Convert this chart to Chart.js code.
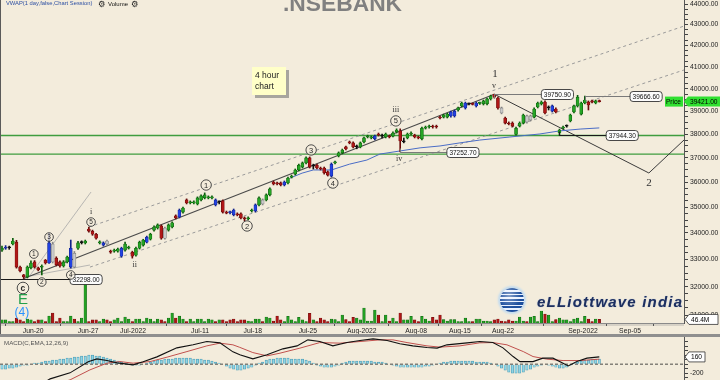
<!DOCTYPE html>
<html>
<head>
<meta charset="utf-8">
<script src="https://cdn.jsdelivr.net/npm/chart.js@4.4.1/dist/chart.umd.min.js"></script>
<style>
html,body{margin:0;padding:0;background:#F3ECDC;overflow:hidden;}
#wrap{position:relative;width:720px;height:380px;overflow:hidden;background:#F3ECDC;font-family:"Liberation Sans",Arial,sans-serif;}
canvas{position:absolute;left:0;z-index:1;}
#c1{top:0;}
#c2{top:337px;}
.t{position:absolute;white-space:nowrap;line-height:1;z-index:3;}
#sep{position:absolute;left:0;top:334px;width:720px;height:3px;background:#8f8f8f;z-index:2;}
#lb{position:absolute;left:0;top:0;width:1px;height:334px;background:#5a5a5a;z-index:2;}
#xband{position:absolute;left:0;top:323px;width:684px;height:3px;background:#d6d1c6;z-index:0;}
#title{left:283px;top:-7.6px;font-size:22.8px;font-weight:bold;color:#808080;}
#vw{left:6px;top:0.6px;font-size:5.8px;color:#2c4fa3;}
#vol{left:108px;top:0.6px;font-size:6px;color:#111;}
.gear{font-family:"DejaVu Sans";font-size:8.5px;color:#222;top:-0.5px;}
#note{position:absolute;left:252px;top:67px;width:31px;height:25px;padding:3px 0 0 3px;background:#FFFFC8;box-shadow:3px 3px 0 #A8A69E;font-size:8.5px;line-height:11px;color:#222;z-index:3;}
#globe{position:absolute;left:500px;top:288px;width:24px;height:24px;border-radius:50%;z-index:3;
 background:radial-gradient(circle at 38% 32%,rgba(255,255,255,0.45),rgba(255,255,255,0) 55%),repeating-linear-gradient(180deg,#1d4f9e 0px,#1d4f9e 2.3px,#eaf2ff 2.3px,#eaf2ff 3.6px);
 box-shadow:0 0 2px 2px #c4dcef;}
#logo{left:537px;top:294px;font-size:15px;font-weight:bold;font-style:italic;letter-spacing:1.2px;color:#1e2f5e;text-shadow:0 0 1px #8aa0c8;}
#macdlbl{left:4px;top:340.1px;font-size:6.2px;color:#555;}
</style>
</head>
<body>
<div id="wrap">
  <div id="xband"></div>
  <canvas id="c1" width="720" height="334"></canvas>
  <div id="sep"></div>
  <div id="lb"></div>
  <canvas id="c2" width="720" height="43"></canvas>
  <div class="t" id="title">.NSEBANK</div>
  <div class="t" id="vw">VWAP(1 day,false,Chart Session)</div>
  <div class="t gear" style="left:98px">⚙</div>
  <div class="t" id="vol">Volume</div>
  <div class="t gear" style="left:131px">⚙</div>
  <div id="note">4 hour<br>chart</div>
  <div id="globe"></div>
  <div class="t" id="logo">eLLiottwave india</div>
  <div class="t" id="macdlbl">MACD(C,EMA,12,26,9)</div>
</div>
<script>
// ---------------- DATA ----------------
const opens = [33350,33420,33440,33580,33650,32720,32430,32360,32690,32910,
32690,32720,32980,32870,33580,33050,32910,32760,32910,32720,
33230,33420,33630,33620,34150,34070,33950,33620,33540,33690,
33310,33310,33310,33120,33350,33420,33270,33160,33420,33540,
33650,33760,34110,34190,34270,34190,34110,34230,34660,34620,
34810,35290,35170,35170,35130,35290,35370,35370,35370,35290,
35210,35250,34810,34810,34890,34740,34740,34580,34540,34850,
34850,35090,35290,35290,35490,36010,35970,35970,35890,35970,
36210,36330,36500,36620,36790,37000,36660,36700,36580,36580,
36420,36250,36790,37080,37210,37460,37670,37630,37460,37460,
37670,37880,37840,37800,38010,37920,37880,37920,37920,38100,
38140,37670,37840,38010,37960,37880,37800,38260,38310,38350,
38350,38740,38740,38740,38790,38790,39050,39230,39140,39320,
39340,39230,39340,39320,39320,39540,39750,39580,39140,38700,
38480,38480,37990,38350,38480,38790,38610,38740,39180,39320,
39400,39140,39000,39090,38050,38260,38350,38570,38960,39230,
38870,39360,39400,39450,39360,39450];
const highs = [33500,33520,33500,33800,33720,32760,32450,32760,32950,32960,
32720,32800,33000,33990,33650,33100,32950,32960,33130,33730,
33300,33680,33700,33730,34230,34110,33990,33700,33660,33730,
33350,33390,33430,33460,33650,33500,33310,33460,33690,33760,
33880,33990,34270,34350,34310,34230,34350,34430,34700,34930,
35010,35330,35250,35250,35410,35490,35570,35450,35450,35330,
35250,35290,34850,34850,34930,34780,34780,34620,34620,34930,
35130,35410,35330,35530,35770,36050,36010,36010,36050,36210,
36290,36540,36740,36830,37040,37040,36740,36740,36620,36620,
36460,36790,36870,37250,37370,37500,37710,37670,37540,37670,
37880,37960,37920,37960,38050,38000,38050,37960,38100,38230,
38230,37840,38050,38100,38000,37920,38310,38350,38390,38390,
38390,38780,38870,38910,39000,39050,39180,39400,39400,39360,
39360,39400,39400,39490,39580,39710,39750.9,39620,39180,38740,
38530,38530,38310,38530,38870,38830,38830,39140,39400,39450,
39450,39230,39270,39140,38220,38350,38400,38870,39270,39700,
39400,39666.6,39450,39490,39490,39490];
const lows = [33300,33380,33380,33550,32680,32540,32298,32320,32650,32680,
32580,32430,32830,32850,32870,32760,32720,32720,32870,32680,
32690,33380,33580,33580,34030,33910,33760,33580,33500,33540,
33230,33270,33270,33080,33310,33390,33050,33120,33390,33500,
33620,33730,34070,34150,33760,33760,34070,34190,34540,34580,
34770,35130,35130,35130,35090,35250,35330,35330,35330,35050,
35130,34770,34740,34740,34660,34660,34540,34460,34500,34810,
34810,35050,35090,35250,35450,35890,35890,35850,35850,35930,
36170,36290,36460,36580,36750,36580,36540,36540,36500,36330,
36250,36210,36750,37040,37170,37330,37590,37420,37380,37420,
37630,37840,37800,37760,37920,37840,37840,37840,37880,38050,
37252.7,37630,37800,37970,37840,37800,37760,38220,38260,38260,
38260,38660,38700,38700,38740,38740,39000,39180,39090,39270,
39270,39180,39300,39270,39270,39490,39580,39090,38880,38440,
38400,38310,37960,38310,38440,38480,38570,38700,39140,39270,
38880,39050,38960,38920,37944.3,38220,38300,38530,38920,39180,
38830,39320,39050,39360,39320,39400];
const closes = [33420,33450,33440,33690,32720,32580,32360,32720,32870,32720,
32610,32760,32870,33620,32910,32800,32760,32910,33090,33420,
32720,33620,33630,33690,34070,33950,33800,33650,33620,33580,
33270,33350,33390,33420,33580,33460,33120,33420,33650,33730,
33840,33950,34230,34310,33800,33800,34310,34390,34580,34890,
34970,35170,35210,35210,35370,35450,35490,35410,35410,35090,
35210,34810,34770,34790,34700,34700,34580,34540,34580,34890,
35090,35370,35130,35490,35730,35930,35930,35890,36010,36170,
36250,36500,36700,36790,37000,36620,36660,36580,36540,36380,
36290,36740,36830,37210,37330,37370,37630,37460,37460,37630,
37840,37920,37880,37920,37960,37920,38010,37880,38050,38180,
37710,37670,38010,38050,37880,37840,38260,38310,38350,38310,
38310,38700,38830,38870,38960,39000,39140,39360,39360,39320,
39300,39360,39360,39450,39540,39670,39620,39140,38920,38480,
38440,38350,38260,38480,38830,38530,38790,39090,39360,39400,
38920,39140,39230,38960,38180,38310,38350,38830,39230,39620,
39360,39490,39270,39400,39450,39421];
// volume in millions
const volumes = [40,40,20,20,65,40,20,52,40,20,
40,40,20,90,130,20,65,20,20,90,
52,20,65,510,20,40,40,20,52,40,
20,40,65,20,78,52,20,52,52,20,
65,52,20,52,40,20,65,130,65,90,
52,20,52,20,52,52,20,52,40,20,
40,40,20,40,52,20,40,40,26,20,
52,52,20,78,65,26,90,40,20,87,
40,20,74,40,20,126,40,20,65,40,
20,52,43,20,104,43,20,74,65,40,
195,26,26,169,104,20,104,26,65,20,
130,40,40,87,40,20,87,52,26,74,
40,104,43,26,43,43,20,20,65,20,
20,52,52,26,26,20,40,52,26,20,
40,26,26,78,26,20,78,87,20,156,
117,104,20,43,65,40,40,20,52,65,
20,87,52,20,52,46.4];
const blueBars = [1,13,19,28,33,40,49,59,63,64,70,78,91,103,124,125,128,131,152];
const grayBars = [14,20,29,45,72,138,145,146];

const xTickPos = [8.6,23.8,36.2,54.7,69.3,84.5,99.4,114.4,126.5,138.4,160.5,173.5];
const xTickLabels = ['Jun-20','Jun-27','Jul-2022','Jul-11','Jul-18','Jul-25','Aug-2022','Aug-08','Aug-15','Aug-22','Sep-2022','Sep-05'];
const priceTickStart = 31000, priceTickEnd = 44000, priceTickStep = 250, priceLabelStep = 1000;

const vwapX = [79.6,82.9,86,91,96,100.8,104.4,110,115.5,121,126.5,132,140.3,148.6,154,159.7,165];
const vwapY = [36170,36370,36500,36500,36740,36910,37160,37290,37420,37500,37630,37750,37880,38010,38140,38220,38270];

const trendMain = [[6,32298],[136,39750.9]];
const trendUpper = [[24,34230],[188.4,42920]];
const trendLower = [[24.3,32718],[188.4,40850]];
const trendBase = [[6.4,32360],[24.3,32795]];
const trendSteep = [[7.2,32317],[24.6,35605]];
const trendProj = [[136,39750.9],[178.7,36375],[188.4,37752]];
const greenLevels = [37944.3,37160];

const levels = [
  {from:136,to:149,price:39750.9,text:'39750.90',tk:4},
  {from:161,to:173.5,price:39666.6,text:'39666.60',tk:4},
  {from:154,to:166.9,price:37944.3,text:'37944.30',tk:-4,dark:true},
  {from:110,to:122.9,price:37252.7,text:'37252.70',tk:-4},
  {from:-0.55,to:18.8,price:32298,text:'32298.00',tk:0,dark:true}
];
const waves = [
  {i:5.8,p:31957,t:'c',k:'c3'},{i:5.8,p:31527,t:'E',k:'E'},{i:5.5,p:31070,t:'(4)',k:'P'},
  {i:8.8,p:33202,t:'1',k:'c1'},{i:11,p:32172,t:'2',k:'c1'},{i:13,p:33845,t:'3',k:'c1'},
  {i:19,p:32429,t:'4',k:'c1'},{i:24.6,p:34421,t:'5',k:'c1'},{i:24.6,p:34813,t:'i',k:'r'},
  {i:36.7,p:32795,t:'ii',k:'r'},
  {i:56.4,p:35886,t:'1',k:'c2'},{i:67.7,p:34268,t:'2',k:'c2'},{i:85.4,p:37330,t:'3',k:'c2'},
  {i:91.4,p:35966,t:'4',k:'c2'},{i:108.8,p:38572,t:'5',k:'c2'},{i:108.8,p:39050,t:'iii',k:'r'},
  {i:109.7,p:36955,t:'iv',k:'r'},{i:135.9,p:40118,t:'v',k:'r'},
  {i:136.2,p:40665,t:'1',k:'B'},{i:178.7,p:35966,t:'2',k:'B'}
];

const histVals = [-110,-110,-88,-88,-66, -44,-22,-22,0,22, 22,44,66,66,88, 88,110,110,132,132,
154,154,176,176,198, 198,176,176,154,132, 110,88,66,44,22, 0,-22,-22,-22,0,
22,44,66,88,88, 110,110,110,132,132, 132,132,132,110,110, 110,88,88,66,44,
22,0,-44,-88,-110, -132,-132,-110,-88,-66, -22,22,44,88,110, 110,132,132,132,132,
110,110,110,110,88, 66,22,-22,-44,-66, -66,-66,-44,-22,22, 44,66,66,66,66,
66,66,66,44,44, 44,22,0,-22,-44, -66,-66,-66,-66,-66, -66,-66,-44,-44,-22,
0,22,44,44,66, 66,66,66,66,66, 66,44,44,44,44, 22,0,-44,-88,-132,
-176,-198,-198,-198,-176, -132,-110,-66,-44,-22, 0,-22,-44,-66,-88, -88,-66,-22,22,44,
66,88,88,110,110,110];
const macdX = [0,6,10,13.3,18.8,23.8,26.2,29,31.8,36.2,39,42.8,48.3,52.8,56.6,60.2,63.8,65.7,69.3,73.2,77.6,81.5,84.5,87.8,91.4,95.3,98.9,102.5,106.4,109.9,113.5,117.4,120.2,122.9,128.5,132,135.6,138.4,141.2,143.1,146.7,149.4,152.2,155,156.4,158.8,161.6,165];
const macdY = [-640,-590,-480,-325,-192,51,117,80,29,-15,51,161,360,427,500,471,272,206,117,206,338,404,537,500,404,477,522,559,522,449,404,367,354,427,471,500,477,360,168,57,57,133,133,22,-38,57,133,160];
const sigX = [0,10,18.8,24.3,29,32.6,36.2,40.9,45.6,51.1,56.6,60.2,63.8,65.7,69.3,73.2,76.8,82.3,87.8,93.4,98.9,104.4,108,111.9,117.4,121,126.5,132,135.6,139.5,144,146.7,150.5,155,159.7,165];
const sigY = [-700,-560,-347,-126,22,57,22,57,155,278,404,464,427,371,256,183,243,354,477,464,500,537,537,477,404,376,404,471,477,427,278,168,111,80,80,111];
const macdTicks = [-300,-200,-100,0,100,200,300,400,500];
const macdLabelTicks = [-200];

// ---------------- CHART ----------------
Chart.defaults.font.family = '"Liberation Sans", Arial, sans-serif';
Chart.defaults.color = '#222';
const XMIN = -0.55, XMAX = 188.4;
const idx = closes.map((_, i) => i);
const last = closes.length - 1;
const kindOf = i => opens[i] === closes[i] ? 'k' : blueBars.includes(i) ? 'b' : grayBars.includes(i) ? 'g' : (closes[i] > opens[i] ? 'u' : 'd');
const FILL = {u:'#25a525', d:'#b01717', b:'#2242e2', g:'#cacaca', k:'#111'};
const EDGE = {u:'#0d5e0d', d:'#6a0a0a', b:'#10228a', g:'#707070', k:'#111'};
const kinds = idx.map(kindOf);
const pts = a => a.map(p => ({x:p[0], y:p[1]}));
const lineDs = (data, color, width, dash, order) => ({type:'line', data, borderColor:color, borderWidth:width, borderDash:dash||[], pointRadius:0, fill:false, tension:0, yAxisID:'y', order});

function roundRect(ctx,x,y,w,h,r){ctx.beginPath();ctx.moveTo(x+r,y);ctx.arcTo(x+w,y,x+w,y+h,r);ctx.arcTo(x+w,y+h,x,y+h,r);ctx.arcTo(x,y+h,x,y,r);ctx.arcTo(x,y,x+w,y,r);ctx.closePath();}
function tag(ctx,x,y,text,fill,stroke,w){
  ctx.beginPath();ctx.moveTo(x,y);ctx.lineTo(x+4,y-5);ctx.lineTo(x+w,y-5);ctx.lineTo(x+w,y+5);ctx.lineTo(x+4,y+5);ctx.closePath();
  ctx.fillStyle=fill;ctx.fill();
  if(stroke){ctx.strokeStyle=stroke;ctx.lineWidth=0.8;ctx.stroke();}
  ctx.fillStyle='#000';ctx.textAlign='left';ctx.textBaseline='middle';ctx.font='6.6px "Liberation Sans"';
  ctx.fillText(text,x+6,y+0.5);
}

const annot = {
  id:'annot',
  afterDraw(chart){
    const ctx = chart.ctx, xs = chart.scales.x, ys = chart.scales.y, yv = chart.scales.yv, ca = chart.chartArea;
    ctx.save();
    for (const l of levels) {
      const x0 = xs.getPixelForValue(l.from), x1 = xs.getPixelForValue(l.to);
      const y = Math.round(ys.getPixelForValue(l.price)) + 0.5;
      ctx.strokeStyle = l.dark ? '#1a1a1a' : '#7a7a7a'; ctx.lineWidth = 1;
      ctx.beginPath(); ctx.moveTo(x0, y); ctx.lineTo(x1, y); ctx.stroke();
      if (l.tk) { ctx.beginPath(); ctx.moveTo(Math.round(x0)+0.5, y); ctx.lineTo(Math.round(x0)+0.5, y+l.tk); ctx.stroke(); }
      ctx.font = '6.5px "Liberation Sans"';
      const w = ctx.measureText(l.text).width + 5;
      roundRect(ctx, x1, y-5, w, 10, 3);
      ctx.fillStyle = '#fcfcfc'; ctx.fill(); ctx.strokeStyle = '#333'; ctx.lineWidth = 0.9; ctx.stroke();
      ctx.fillStyle = '#111'; ctx.textAlign = 'left'; ctx.textBaseline = 'middle';
      ctx.fillText(l.text, x1+2.5, y+0.5);
    }
    for (const w of waves) {
      const x = xs.getPixelForValue(w.i), y = ys.getPixelForValue(w.p);
      ctx.textAlign = 'center'; ctx.textBaseline = 'middle';
      if (w.k === 'c1' || w.k === 'c2' || w.k === 'c3') {
        const r = w.k === 'c1' ? 4.3 : (w.k === 'c2' ? 5.2 : 5.8);
        ctx.beginPath(); ctx.arc(x, y, r, 0, Math.PI*2);
        ctx.fillStyle = 'rgba(243,236,220,0.7)'; ctx.fill();
        ctx.lineWidth = 0.9; ctx.strokeStyle = '#3a3a3a'; ctx.stroke();
        ctx.fillStyle = '#2a2a2a';
        ctx.font = w.k === 'c1' ? '6.5px "Liberation Sans"' : (w.k === 'c2' ? '7.5px "Liberation Sans"' : 'bold 8.5px "Liberation Sans"');
        ctx.fillText(w.t, x, y + 0.5);
      } else if (w.k === 'E') {
        ctx.fillStyle = '#23a04a'; ctx.font = '15px "Liberation Sans"'; ctx.fillText(w.t, x, y);
      } else if (w.k === 'P') {
        ctx.fillStyle = '#2b93ff'; ctx.font = '12px "Liberation Sans"'; ctx.fillText(w.t, x, y);
      } else if (w.k === 'r') {
        ctx.fillStyle = '#333'; ctx.font = '8px "Liberation Serif"'; ctx.fillText(w.t, x, y);
      } else {
        ctx.fillStyle = '#333'; ctx.font = '11px "Liberation Serif"'; ctx.fillText(w.t, x, y);
      }
    }
    const yp = ys.getPixelForValue(closes[last]);
    ctx.fillStyle = '#30e030'; ctx.fillRect(ca.right-19, yp-5, 18, 10);
    ctx.fillStyle = '#000'; ctx.textAlign = 'left'; ctx.textBaseline = 'middle'; ctx.font = '6.5px "Liberation Sans"';
    ctx.fillText('Price', ca.right-18, yp+0.5);
    tag(ctx, ca.right, yp, closes[last].toFixed(2), '#30e030', null, 36);
    const yvv = yv.getPixelForValue(volumes[last]);
    tag(ctx, ca.right+1, yvv, volumes[last].toFixed(1)+'M', '#fff', '#333', 33);
    ctx.restore();
  }
};

new Chart(document.getElementById('c1'), {
  type:'bar',
  data:{datasets:[
    {type:'bar', data: idx.map(i => ({x:i, y:[opens[i], closes[i]]})), backgroundColor: kinds.map(k => FILL[k]), borderColor: kinds.map(k => EDGE[k]),
      borderWidth:0.6, borderSkipped:false, barThickness:3, minBarLength:1, grouped:false, yAxisID:'y', order:0},
    {type:'bar', data: idx.map(i => ({x:i, y:[lows[i], highs[i]]})), backgroundColor: kinds.map(k => k === 'g' ? '#888' : EDGE[k]),
      barThickness:1, grouped:false, yAxisID:'y', order:1},
    lineDs(pts(trendMain), '#4a4a4a', 1.1, null, 3),
    lineDs(pts(trendUpper), '#9a9a9a', 1, [3,3], 4),
    lineDs(pts(trendLower), '#9a9a9a', 1, [3,3], 4),
    lineDs(pts(trendBase), '#a8a8a8', 0.8, null, 4),
    lineDs(pts(trendSteep), '#a8a8a8', 0.8, null, 4),
    lineDs(pts(trendProj), '#3a3a3a', 1, null, 3),
    lineDs(vwapX.map((x,k) => ({x, y:vwapY[k]})), '#4a6cc6', 1, null, 2),
    ...greenLevels.map(v => lineDs([{x:XMIN,y:v},{x:XMAX,y:v}], '#3f9d3f', 1.3, null, 6)),
    {type:'bar', data: idx.map(i => ({x:i, y:volumes[i]})), backgroundColor: idx.map(i => closes[i] >= opens[i] ? '#22a022' : '#ae1616'),
      borderColor: idx.map(i => closes[i] >= opens[i] ? '#0e5c0e' : '#650909'), borderWidth:0.5, barThickness:2.6, grouped:false, yAxisID:'yv', order:20}
  ]},
  options:{
    responsive:false, animation:false, devicePixelRatio:1, layout:{padding:0},
    plugins:{legend:{display:false}, tooltip:{enabled:false}},
    scales:{
      x:{type:'linear', min:XMIN, max:XMAX, bounds:'data', offset:false,
        grid:{display:true, drawOnChartArea:false, tickLength:3, color:'#555'}, border:{color:'#8a8a8a'},
        ticks:{autoSkip:false, maxRotation:0, padding:1, font:{size:6.8}, color:'#222', callback:(v,k) => xTickLabels[k]},
        afterBuildTicks:s => { s.ticks = xTickPos.map(v => ({value:v})); },
        afterFit:s => { s.height = 11; s.paddingLeft = 0; s.paddingRight = 0; }},
      y:{type:'logarithmic', position:'right', min:30722, max:44199, bounds:'data',
        grid:{drawOnChartArea:false, tickLength:4, color:'#444'}, border:{color:'#555'},
        ticks:{autoSkip:false, padding:2, font:{size:6.8}, color:'#222', callback:v => (v % priceLabelStep === 0 ? Number(v).toFixed(2) : '')},
        afterBuildTicks:s => { const t=[]; for(let v=priceTickStart; v<=priceTickEnd; v+=priceTickStep) t.push({value:v}); s.ticks=t; },
        afterFit:s => { s.width = 36; s.paddingTop = 0; s.paddingBottom = 0; }},
      yv:{type:'linear', display:false, min:0, max:4200}
    }
  },
  plugins:[annot]
});

const macdAnnot = {
  id:'macdAnnot',
  afterDraw(chart){
    const ctx = chart.ctx, ys = chart.scales.y, ca = chart.chartArea;
    ctx.save();
    const y = ys.getPixelForValue(macdY[macdY.length-1]);
    tag(ctx, ca.right+1, y, String(macdY[macdY.length-1]), '#fff', '#333', 20);
    ctx.restore();
  }
};

new Chart(document.getElementById('c2'), {
  type:'bar',
  data:{datasets:[
    {type:'line', data: macdX.map((x,k) => ({x, y:macdY[k]})), borderColor:'#111', borderWidth:1.1, pointRadius:0, fill:false, tension:0, order:0},
    {type:'line', data: sigX.map((x,k) => ({x, y:sigY[k]})), borderColor:'#c0504d', borderWidth:1, pointRadius:0, fill:false, tension:0, order:1},
    {type:'line', data: [{x:XMIN,y:0},{x:XMAX,y:0}], borderColor:'#222', borderWidth:0.8, borderDash:[3,2], pointRadius:0, fill:false, order:2},
    {type:'bar', data: idx.map(i => ({x:i, y:histVals[i]})), backgroundColor:'#8fd4e4', borderColor:'#4a9ab4', borderWidth:0.6, barThickness:2.4, grouped:false, order:5}
  ]},
  options:{
    responsive:false, animation:false, devicePixelRatio:1, layout:{padding:0},
    plugins:{legend:{display:false}, tooltip:{enabled:false}},
    scales:{
      x:{type:'linear', min:XMIN, max:XMAX, bounds:'data', offset:false, display:false},
      y:{type:'linear', position:'right', min:-350, max:600, bounds:'data',
        grid:{drawOnChartArea:false, tickLength:4, color:'#444'}, border:{color:'#555'},
        ticks:{autoSkip:false, padding:2, font:{size:6.8}, color:'#222', callback:v => (macdLabelTicks.includes(v) ? String(v) : '')},
        afterBuildTicks:s => { s.ticks = macdTicks.map(v => ({value:v})); },
        afterFit:s => { s.width = 36; s.paddingTop = 0; s.paddingBottom = 0; }}
    }
  },
  plugins:[macdAnnot]
});
</script>
</body>
</html>
